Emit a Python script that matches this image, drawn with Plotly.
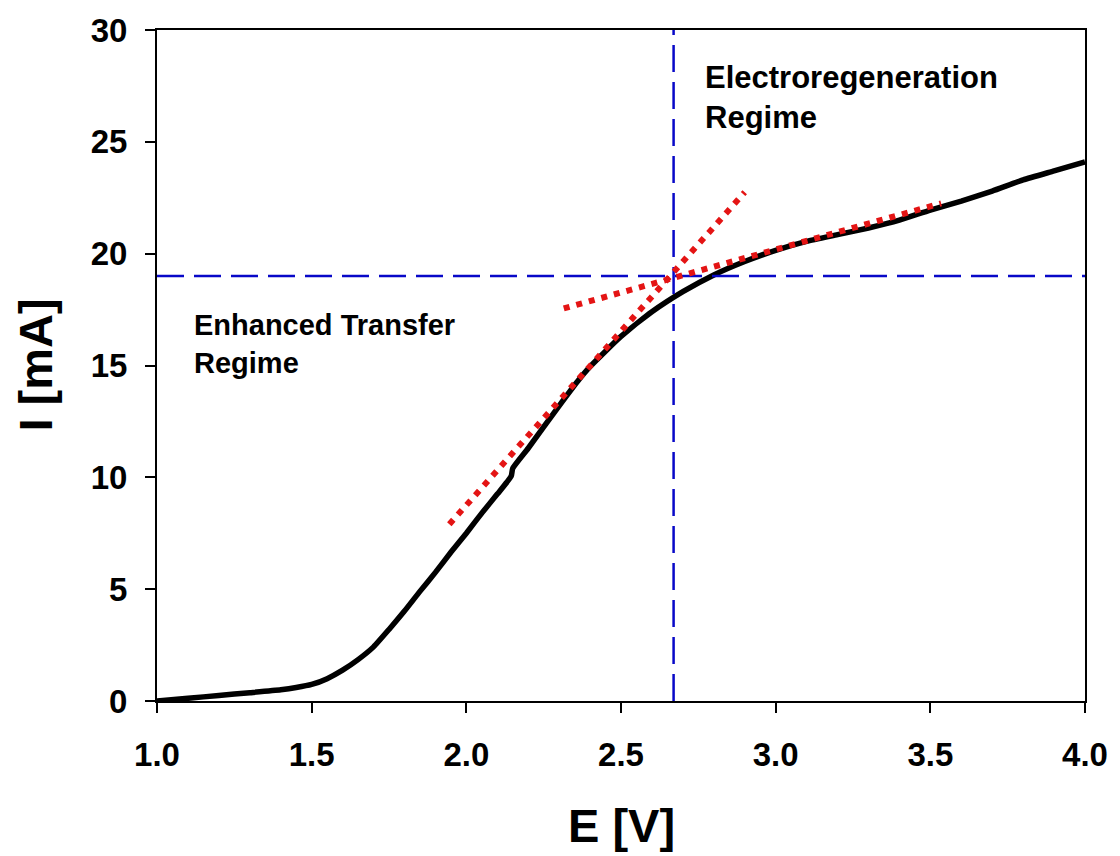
import plotly.graph_objects as go

# Polarisation curve: cell potential E [V] vs current I [mA]
E_V = [1.0, 1.1, 1.2, 1.3, 1.4, 1.45, 1.5, 1.55, 1.6, 1.65, 1.7, 1.75, 1.8, 1.85,
       1.9, 1.95, 2.0, 2.05, 2.1, 2.145, 2.15, 2.2, 2.3, 2.36, 2.4, 2.5, 2.6,
       2.7, 2.8, 2.9, 3.0, 3.1, 3.2, 3.3, 3.4, 3.5, 3.6, 3.7, 3.8, 3.9, 4.0]
I_mA = [0.0, 0.12, 0.25, 0.37, 0.5, 0.6, 0.74, 1.0, 1.38, 1.85, 2.42, 3.2, 4.02, 4.9,
        5.75, 6.65, 7.5, 8.4, 9.25, 10.05, 10.4, 11.3, 13.2, 14.3, 14.95, 16.3, 17.4,
        18.3, 19.05, 19.65, 20.15, 20.55, 20.85, 21.15, 21.5, 21.95, 22.35, 22.8, 23.3, 23.7, 24.1]

# Linear fits of the two regimes (end points)
fit_steep_E = [1.945, 2.90]
fit_steep_I = [7.9, 22.75]
fit_flat_E = [2.315, 3.535]
fit_flat_I = [17.55, 22.25]

# Transition point between the regimes
E_transition = 2.67
I_transition = 19.0

x_range = [1.0, 4.0]
y_range = [0, 30]
x_ticks = [1.0, 1.5, 2.0, 2.5, 3.0, 3.5, 4.0]
y_ticks = [0, 5, 10, 15, 20, 25, 30]

FONT = "Liberation Sans, Arial, sans-serif"
BLUE = "#0808c8"
RED = "#e41414"

fig = go.Figure()

fig.add_trace(go.Scatter(x=E_V, y=I_mA, mode="lines",
                         line=dict(color="black", width=5.5, shape="spline", smoothing=0.5),
                         hoverinfo="skip"))

fig.add_trace(go.Scatter(x=[E_transition, E_transition], y=y_range, mode="lines",
                         line=dict(color=BLUE, width=2.5, dash="27px,10px")))
fig.add_trace(go.Scatter(x=x_range, y=[I_transition, I_transition], mode="lines",
                         line=dict(color=BLUE, width=2.5, dash="27px,10px")))

fig.add_trace(go.Scatter(x=fit_steep_E, y=fit_steep_I, mode="lines",
                         line=dict(color=RED, width=6, dash="6px,7px")))
fig.add_trace(go.Scatter(x=fit_flat_E, y=fit_flat_I, mode="lines",
                         line=dict(color=RED, width=6, dash="6px,7px")))

axis_common = dict(
    showline=True, linecolor="black", linewidth=2, mirror=True,
    ticks="outside", ticklen=10, tickwidth=2, tickcolor="black",
    showgrid=False, zeroline=False,
    tickfont=dict(family=FONT, size=33, color="black", weight="bold"),
)

fig.update_xaxes(range=x_range, tickvals=x_ticks,
                 ticktext=[f"{v:.1f}" for v in x_ticks],
                 ticklabelstandoff=13, **axis_common)
fig.update_yaxes(range=y_range, tickvals=y_ticks,
                 ticktext=[str(v) for v in y_ticks],
                 ticklabelstandoff=11, **axis_common)

title_font = dict(family=FONT, size=47, color="black", weight="bold")

fig.update_layout(
    width=1120, height=856,
    margin=dict(l=157, r=31, t=29, b=155),
    paper_bgcolor="white", plot_bgcolor="white",
    showlegend=False,
    annotations=[
        dict(x=2.765, y=27.0, xref="x", yref="y", text="Electroregeneration<br>Regime",
             showarrow=False, xanchor="left", yanchor="middle", align="left",
             font=dict(family=FONT, size=31, color="black", weight="bold")),
        dict(x=1.112, y=15.95, xref="x", yref="y", text="Enhanced Transfer<br>Regime",
             showarrow=False, xanchor="left", yanchor="middle", align="left",
             font=dict(family=FONT, size=29, color="black", weight="bold")),
        dict(x=0.5, y=0, xref="paper", yref="paper", text="E [V]", showarrow=False,
             xanchor="center", yanchor="middle", yshift=-124, font=title_font),
        dict(x=0, y=0.5, xref="paper", yref="paper", text="I [mA]", showarrow=False,
             xanchor="center", yanchor="middle", xshift=-122, textangle=-90, font=title_font),
    ],
)

fig.write_html("out.html")
